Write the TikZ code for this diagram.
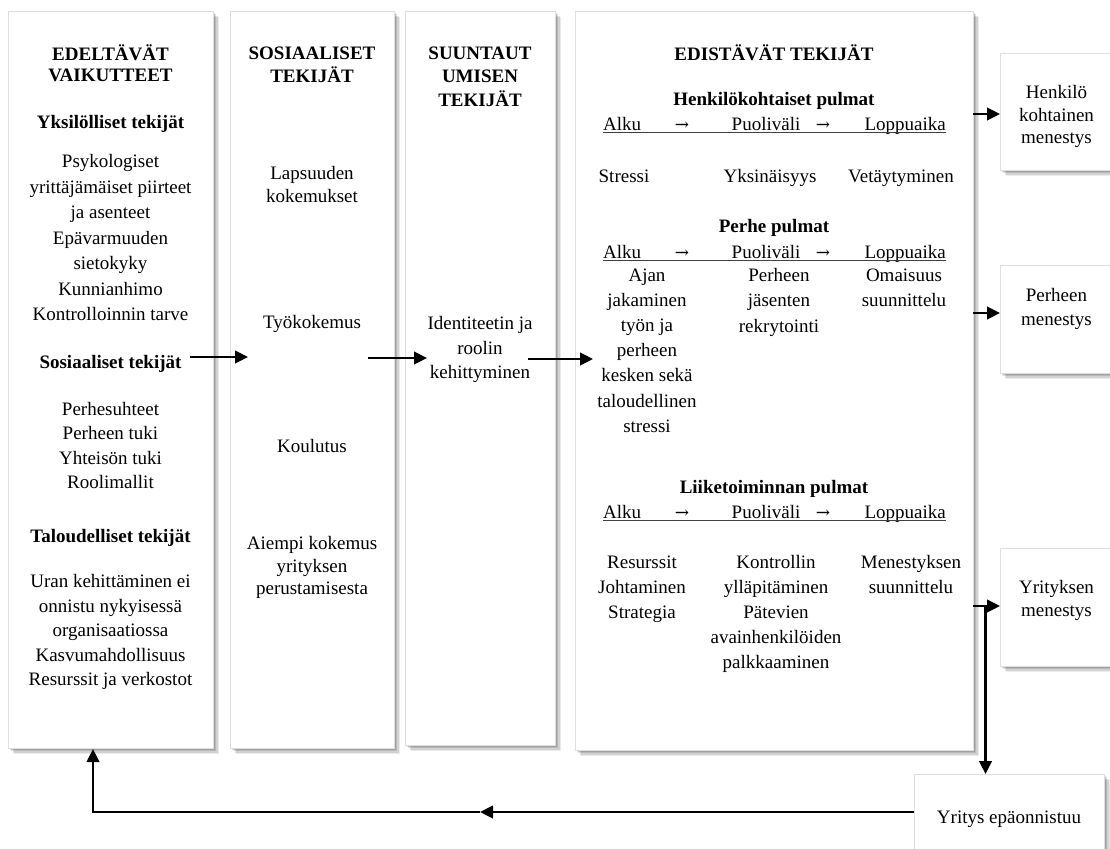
\documentclass[tikz,border=0pt]{standalone}
\usepackage{fontspec}
\setmainfont{Liberation Serif}
\newfontfamily\arrowfont{DejaVu Serif}
\usetikzlibrary{shadows,arrows.meta}
\newcommand{\fz}{\fontsize{19}{24.5}\selectfont}
\newcommand{\ra}{{\arrowfont\fontsize{17}{20}\selectfont →}}
\begin{document}
\begin{tikzpicture}[x=1pt,y=-1pt,
  panel/.style={draw=black!13, line width=0.6pt, fill=white, anchor=north west, inner sep=0pt,
    general shadow={fill=black, opacity=0.12, shadow xshift=1.5pt, shadow yshift=-1.5pt},
    general shadow={fill=black, opacity=0.12, shadow xshift=3pt, shadow yshift=-3pt},
    general shadow={fill=black, opacity=0.11, shadow xshift=4.5pt, shadow yshift=-4.5pt},
    general shadow={fill=black, opacity=0.08, shadow xshift=6pt, shadow yshift=-6pt}},
  txt/.style={align=center, inner sep=0pt, anchor=north, font=\fz,
    execute at begin node=\rule{0pt}{17pt}},
  hd/.style={txt, font=\fz\bfseries},
  arr/.style={line width=2.6pt, -{Triangle[length=13pt,width=12.5pt]}},
  uline/.style={line width=0.9pt, black!75}
]
\useasboundingbox (0,0) rectangle (1110,848);

% ---- panels ----
\node[panel, minimum width=205, minimum height=737] (c1) at (8,11) {};
\node[panel, minimum width=164, minimum height=737] (c2) at (230,11) {};
\node[panel, minimum width=150, minimum height=734] (c3) at (405,11) {};
\node[panel, minimum width=398, minimum height=739] (c4) at (575,11) {};
\node[panel, minimum width=113, minimum height=117] (b1) at (1000,53) {};
\node[panel, minimum width=113, minimum height=108] (b2) at (1000,265) {};
\node[panel, minimum width=113, minimum height=118] (b3) at (1000,548) {};
\node[panel, minimum width=190, minimum height=90] (b4) at (914,774) {};

% ---- column 1 ----
\node[hd, font=\fontsize{19}{21}\selectfont\bfseries] (h1) at (110.5,44.3) {EDELTÄVÄT\\VAIKUTTEET};
\node[hd] (ind) at (110.5,111.3) {Yksilölliset tekijät};
\node[txt, font=\fontsize{19}{25.5}\selectfont] (indl) at (110.5,154.3)
  {Psykologiset\\yrittäjämäiset piirteet\\ja asenteet\\Epävarmuuden\\sietokyky\\Kunnianhimo\\Kontrolloinnin tarve};
\node[hd] (soc) at (110.5,351.3) {Sosiaaliset tekijät};
\node[txt, font=\fontsize{19}{24.3}\selectfont] (socl) at (110.5,402.3)
  {Perhesuhteet\\Perheen tuki\\Yhteisön tuki\\Roolimallit};
\node[hd] (eco) at (110.5,525.3) {Taloudelliset tekijät};
\node[txt] (ecol) at (110.5,574.3)
  {Uran kehittäminen ei\\onnistu nykyisessä\\organisaatiossa\\Kasvumahdollisuus\\Resurssit ja verkostot};

% ---- column 2 ----
\node[hd, font=\fontsize{19}{23}\selectfont\bfseries] (h2) at (312,46.3) {SOSIAALISET\\TEKIJÄT};
\node[txt, font=\fontsize{19}{23}\selectfont] (lap) at (312,166.3) {Lapsuuden\\kokemukset};
\node[txt] (tyo) at (312,311.3) {Työkokemus};
\node[txt] (kou) at (312,435.3) {Koulutus};
\node[txt, font=\fontsize{19}{22.5}\selectfont] (aie) at (312,536.3) {Aiempi kokemus\\yrityksen\\perustamisesta};

% ---- column 3 ----
\node[hd, font=\fontsize{19}{23.5}\selectfont\bfseries] (h3) at (480,46.3) {SUUNTAUT\\UMISEN\\TEKIJÄT};
\node[txt] (ide) at (480,316.3) {Identiteetin ja\\roolin\\kehittyminen};

% ---- column 4 ----
\node[hd] (h4) at (774,43.3) {EDISTÄVÄT TEKIJÄT};

\node[hd] (p1) at (774,88.3) {Henkilökohtaiset pulmat};
\node[txt, anchor=north west] (p1a) at (603,113.3) {Alku};
\node[txt] (p1b) at (682,113.3) {\ra};
\node[txt] (p1c) at (766,113.3) {Puoliväli};
\node[txt] (p1d) at (823,113.3) {\ra};
\node[txt, anchor=north east] (p1e) at (946,113.3) {Loppuaika};
\draw[uline] (603,132.3) -- (946,132.3);
\node[txt] (s1) at (624,165.3) {Stressi};
\node[txt] (s2) at (770,165.3) {Yksinäisyys};
\node[txt] (s3) at (901,165.3) {Vetäytyminen};

\node[hd] (p2) at (774,215.3) {Perhe pulmat};
\node[txt, anchor=north west] (p2a) at (603,241.3) {Alku};
\node[txt] (p2b) at (682,241.3) {\ra};
\node[txt] (p2c) at (766,241.3) {Puoliväli};
\node[txt] (p2d) at (823,241.3) {\ra};
\node[txt, anchor=north east] (p2e) at (946,241.3) {Loppuaika};
\draw[uline] (603,260.3) -- (946,260.3);
\node[txt, font=\fontsize{19}{25.2}\selectfont] (f1) at (647,268.3)
  {Ajan\\jakaminen\\työn ja\\perheen\\kesken sekä\\taloudellinen\\stressi};
\node[txt, font=\fontsize{19}{25.2}\selectfont] (f2) at (779,268.3) {Perheen\\jäsenten\\rekrytointi};
\node[txt, font=\fontsize{19}{25.2}\selectfont] (f3) at (904,268.3) {Omaisuus\\suunnittelu};

\node[hd] (p3) at (774,476.3) {Liiketoiminnan pulmat};
\node[txt, anchor=north west] (p3a) at (603,501.3) {Alku};
\node[txt] (p3b) at (682,501.3) {\ra};
\node[txt] (p3c) at (766,501.3) {Puoliväli};
\node[txt] (p3d) at (823,501.3) {\ra};
\node[txt, anchor=north east] (p3e) at (946,501.3) {Loppuaika};
\draw[uline] (603,520.3) -- (946,520.3);
\node[txt, font=\fontsize{19}{25}\selectfont] (l1) at (642,555.3) {Resurssit\\Johtaminen\\Strategia};
\node[txt, font=\fontsize{19}{25}\selectfont] (l2) at (776,555.3)
  {Kontrollin\\ylläpitäminen\\Pätevien\\avainhenkilöiden\\palkkaaminen};
\node[txt, font=\fontsize{19}{25}\selectfont] (l3) at (911,555.3) {Menestyksen\\suunnittelu};

% ---- outcome boxes ----
\node[txt, font=\fontsize{19}{22.5}\selectfont] (o1) at (1056.5,85.3) {Henkilö\\kohtainen\\menestys};
\node[txt, font=\fontsize{19}{24}\selectfont] (o2) at (1056.5,288.3) {Perheen\\menestys};
\node[txt, font=\fontsize{19}{23}\selectfont] (o3) at (1056.5,580.3) {Yrityksen\\menestys};
\node[txt] (o4) at (1009,806.3) {Yritys epäonnistuu};

% ---- connectors ----
\coordinate (a1s) at (190,357);   \coordinate (a1e) at (248,357);
\coordinate (a2s) at (368,358);   \coordinate (a2e) at (427,358);
\coordinate (a3s) at (528,359);   \coordinate (a3e) at (593,359);
\draw[arr] (a1s) -- (a1e);
\draw[arr] (a2s) -- (a2e);
\draw[arr] (a3s) -- (a3e);

\coordinate (r1) at (973,114);
\coordinate (r2) at (973,313);
\coordinate (r3) at (973,606);
\draw[arr] (r1) -- (r1 -| b1.west);
\draw[arr] (r2) -- (r2 -| b2.west);
\draw[arr] (r3) -- (r3 -| b3.west);

\coordinate (j) at (985.5,606);
\draw[arr] (j) -- (j |- b4.north);

\coordinate (f0) at (b4.west |- 0,812);
\coordinate (m) at (480,812);
\coordinate (fb) at (93,749);
\draw[arr] (f0) -- (m);
\draw[arr] (m) -| (fb);
\end{tikzpicture}
\end{document}
